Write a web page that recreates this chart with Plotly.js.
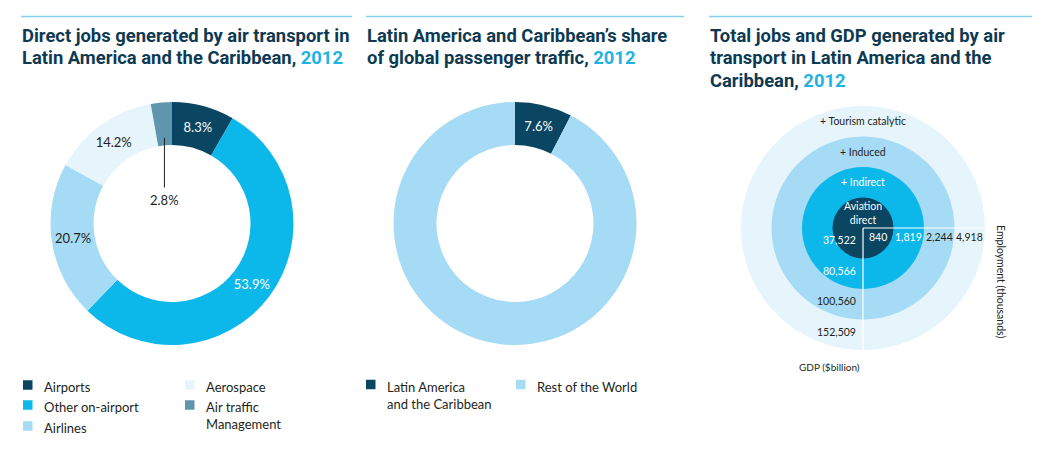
<!DOCTYPE html>
<html>
<head>
<meta charset="utf-8">
<script src="https://cdn.plot.ly/plotly-3.0.1.min.js"></script>
<style>html,body{margin:0;padding:0;background:#fff;}#chart{width:1050px;height:462px;}</style>
</head>
<body>
<div id="chart"></div>
<script>
// ---------------- DATA ----------------
const jobCategories = ["Airports", "Other on-airport", "Airlines", "Aerospace", "Air traffic<br>Management"];
const jobShares = [8.3, 53.9, 20.7, 14.2, 2.8];

const trafficCategories = ["Latin America<br>and the Caribbean", "Rest of the World"];
const trafficShares = [7.6, 92.4];

const ringNames = ["Aviation<br>direct", "+ Indirect", "+ Induced", "+ Tourism catalytic"];
const employmentThousands = [840, 1819, 2244, 4918];
const gdpValues = [37522, 80566, 100560, 152509];

const titles = [
  ["Direct jobs generated by air transport in", "Latin America and the Caribbean, "],
  ["Latin America and Caribbean’s share", "of global passenger traffic, "],
  ["Total jobs and GDP generated by air", "transport in Latin America and the", "Caribbean, "]
];
const titleYear = "2012";

// ---------------- STYLE ----------------
const W = 1050, H = 462;
const NAVY = "#0a4561", CYAN = "#0cb8ea", LIGHT = "#a6dbf6", PALE = "#e6f4fc", STEEL = "#5e96ae";
const TITLE_C = "#0d3a52", YEAR_C = "#1fb2e4", RULE_C = "#86cfee";
const jobColors = [NAVY, CYAN, LIGHT, PALE, STEEL];
const jobTextColors = ["#ffffff", "#ffffff", "#231f20", "#231f20", "#231f20"];
const trafficColors = [NAVY, LIGHT];
const ringColors = [NAVY, CYAN, LIGHT, PALE];
const ringTextColors = ["#ffffff", "#ffffff", "#231f20", "#231f20"];
const BODY_FONT = "Lato, 'Noto Sans', sans-serif";
const TITLE_FONT = "Roboto, 'Liberation Sans', sans-serif";

const px = x => x / W;
const py = y => 1 - y / H;

// donut geometry (pixels)
const R = 121.5, HOLE = 78.5 / 121.5;
const pie1C = [172, 223.5], pie2C = [515, 223.5];
function dom(c) {
  return {x: [px(c[0] - R), px(c[0] + R)], y: [py(c[1] + R), py(c[1] - R)]};
}

const fmt = v => v.toLocaleString("en-US");
const pct = v => v.toFixed(1) + "%";

// ---------------- TRACES ----------------
const smallIdx = jobShares.length - 1; // Air traffic management: label drawn with leader
const traces = [
  {
    type: "pie", labels: jobCategories, values: jobShares, sort: false, direction: "clockwise", rotation: 0,
    hole: HOLE, domain: dom(pie1C), showlegend: false,
    marker: {colors: jobColors, line: {width: 0}},
    text: jobShares.map((v, i) => i === smallIdx ? "" : pct(v)),
    textinfo: "text", textposition: "inside", insidetextorientation: "horizontal",
    insidetextfont: {family: BODY_FONT, size: 13, color: jobTextColors},
    hoverinfo: "label+percent"
  },
  {
    type: "pie", labels: trafficCategories, values: trafficShares, sort: false, direction: "clockwise", rotation: 0,
    hole: HOLE, domain: dom(pie2C), showlegend: false,
    marker: {colors: trafficColors, line: {width: 0}},
    text: trafficShares.map((v, i) => i === 0 ? pct(v) : ""),
    textinfo: "text", textposition: "inside", insidetextorientation: "horizontal",
    insidetextfont: {family: BODY_FONT, size: 13, color: ["#ffffff", "#231f20"]},
    hoverinfo: "label+percent"
  }
];

// ---------------- LAYOUT ----------------
const shapes = [], annotations = [];
function note(o) {
  annotations.push(Object.assign({xref: "paper", yref: "paper", xanchor: "center", yanchor: "middle", showarrow: false}, o));
}

// Title rules + titles
const panels = [{x0: 21, x1: 352}, {x0: 366, x1: 684}, {x0: 709, x1: 1032}];
const TITLE_LINE0 = 35.5, TITLE_STEP = 22.5;
panels.forEach((p, i) => {
  shapes.push({type: "line", xref: "paper", yref: "paper", x0: px(p.x0), x1: px(p.x1), y0: py(16.5), y1: py(16.5),
    line: {color: RULE_C, width: 1.3}});
  titles[i].forEach((ln, j) => {
    const last = j === titles[i].length - 1;
    note({x: px(p.x0 - 1), y: py(TITLE_LINE0 + j * TITLE_STEP), xanchor: "left", align: "left",
      text: ln + (last ? `<span style="color:${YEAR_C}">${titleYear}</span>` : ""),
      font: {family: TITLE_FONT, size: 18.4, weight: 700, color: TITLE_C}});
  });
});

// Leader label for small slice in donut 1
{
  const before = jobShares.slice(0, smallIdx).reduce((a, b) => a + b, 0);
  const total = jobShares.reduce((a, b) => a + b, 0);
  const mid = (before + jobShares[smallIdx] / 2) / total * 2 * Math.PI;
  const rTip = 86, rTxt = 24;
  const tipX = pie1C[0] + rTip * Math.sin(mid), tipY = pie1C[1] - rTip * Math.cos(mid);
  const txtY = pie1C[1] - rTxt;
  shapes.push({type: "line", xref: "paper", yref: "paper", x0: px(tipX), x1: px(tipX), y0: py(tipY), y1: py(txtY - 12),
    line: {color: "#231f20", width: 1}});
  note({x: px(tipX), y: py(txtY), text: pct(jobShares[smallIdx]), font: {family: BODY_FONT, size: 13, color: "#231f20"}});
}

// Legends
function legendItem(sqX, rowY, color, label) {
  shapes.push({type: "rect", xref: "paper", yref: "paper", x0: px(sqX), x1: px(sqX + 9.5),
    y0: py(rowY + 4.75), y1: py(rowY - 4.75), fillcolor: color, line: {width: 0}});
  note({x: px(sqX + 18.5), y: py(rowY - 8), xanchor: "left", yanchor: "top", align: "left",
    text: label, font: {family: BODY_FONT, size: 13, color: "#231f20"}});
}
const leg1Pos = [[23, 385], [23, 405], [23, 426], [185, 385], [185, 405]];
jobCategories.forEach((c, i) => legendItem(leg1Pos[i][0], leg1Pos[i][1], jobColors[i], c));
const leg2Pos = [[366, 384.5], [516, 384.5]];
trafficCategories.forEach((c, i) => legendItem(leg2Pos[i][0], leg2Pos[i][1], trafficColors[i], c));

// Panel 3: concentric rings on an equal-scale cartesian subplot
const U = 30.5;               // pixels per ring step
const C3 = [863, 228];        // centre (pixels)
const HALF = 4.2;             // axis half-range in ring units
const xDom = [px(C3[0] - HALF * U), px(C3[0] + HALF * U)];
const yDom = [py(C3[1] + HALF * U), py(C3[1] - HALF * U)];

const nR = ringNames.length;
for (let k = nR; k >= 1; k--) {
  shapes.push({type: "circle", xref: "x", yref: "y", x0: -k, x1: k, y0: -k, y1: k,
    fillcolor: ringColors[k - 1], line: {width: 0}, layer: "above"});
}
shapes.push({type: "line", xref: "x", yref: "y", x0: 0, y0: 0, x1: nR, y1: 0, line: {color: "#ffffff", width: 1.2}});
shapes.push({type: "line", xref: "x", yref: "y", x0: 0, y0: 0, x1: 0, y1: -nR, line: {color: "#ffffff", width: 1.2}});

ringNames.forEach((n, i) => {
  const k = i + 1;
  note({xref: "x", yref: "y", x: 0, y: k - 0.5, text: n,
    font: {family: BODY_FONT, size: 10.5, color: ringTextColors[i]}});
  note({xref: "x", yref: "y", x: k - 0.5, y: -0.3, text: fmt(employmentThousands[i]),
    font: {family: BODY_FONT, size: 10.5, color: ringTextColors[i]}});
  note({xref: "x", yref: "y", x: -0.18, y: -(k - 0.6), xanchor: "right", text: fmt(gdpValues[i]),
    font: {family: BODY_FONT, size: 10.5, color: ringTextColors[i]}});
});
note({x: px(829), y: py(367), text: "GDP ($billion)", font: {family: BODY_FONT, size: 10, color: "#231f20"}});
note({x: px(1001), y: py(281), textangle: 90, text: "Employment (thousands)",
  font: {family: BODY_FONT, size: 10.5, color: "#231f20"}});

const layout = {
  width: W, height: H, margin: {l: 0, r: 0, t: 0, b: 0},
  paper_bgcolor: "#ffffff", plot_bgcolor: "rgba(0,0,0,0)", showlegend: false,
  xaxis: {domain: xDom, range: [-HALF, HALF], visible: false, fixedrange: true},
  yaxis: {domain: yDom, range: [-HALF, HALF], visible: false, fixedrange: true},
  shapes: shapes, annotations: annotations
};

Plotly.newPlot("chart", traces, layout, {displayModeBar: false, staticPlot: true});
</script>
</body>
</html>
